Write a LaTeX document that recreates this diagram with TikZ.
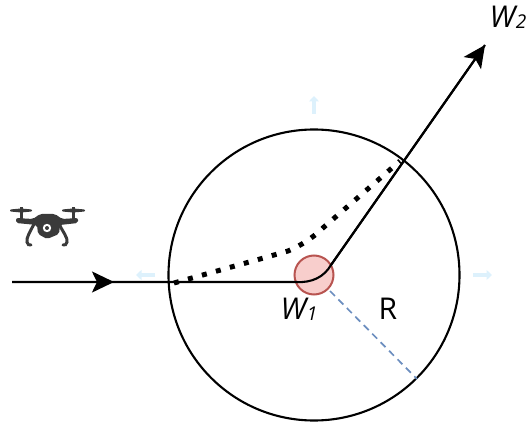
\documentclass[tikz,border=0pt]{standalone}
\usepackage{fontspec}
\setmainfont{Open Sans}
\usetikzlibrary{arrows.meta}
\definecolor{dronec}{HTML}{3A3A3A}
\definecolor{hint}{HTML}{DDF1FC}
\definecolor{dashc}{HTML}{6C8EBF}
\definecolor{wpfill}{HTML}{F8CECC}
\definecolor{wpline}{HTML}{B85450}
\tikzset{
  bigcircle/.style={draw=black,line width=2.1pt,fill=none},
  path/.style={draw=black,line width=2.1pt},
  tip/.style={-{Stealth[length=22pt,width=21pt,inset=5pt]}},
  hintarrow/.style={draw=hint,line width=3.6pt,-{Triangle[length=5.5pt,width=10pt]}},
  lbl/.style={text=black,inner sep=0pt,font=\fontsize{30}{30}\selectfont},
}
\newcommand{\wsub}[1]{\itshape W\kern0.5pt\raisebox{-1pt}{\fontsize{19}{19}\selectfont #1}}
\begin{document}
\begin{tikzpicture}[x=1pt,y=-1pt]
\useasboundingbox (0,0) rectangle (530,422);
% faint arrows
\coordinate (ua) at (314,114); \coordinate (ub) at (314,96);
\coordinate (ra) at (492,275); \coordinate (rb) at (473,275);
\coordinate (la) at (136,275); \coordinate (lb) at (155,275);
\draw[hintarrow] (ua) -- (ub);
\draw[hintarrow] (rb) -- (ra);
\draw[hintarrow] (lb) -- (la);
% waypoint circle
\coordinate (c) at (314,275);
\node[circle,draw=wpline,fill=wpfill,line width=2pt,minimum size=39pt,inner sep=0pt] (wp) at (c) {};
\node[bigcircle,circle,minimum size=291pt,inner sep=0pt] (big) at (c) {};
% dashed radius
\coordinate (rs) at (330,291); \coordinate (re) at (417,379);
\draw[draw=dashc,line width=1.7pt,dash pattern=on 7pt off 5pt] (rs) -- (re);
% main path
\coordinate (s) at (12,282); \coordinate (m) at (114,282);
\coordinate (w2) at (485,45); \coordinate (b) at (400,161);
\draw[path] (s) -- (296,282) .. controls (312,283) and (324,277) .. (331,265) -- (w2);
\draw[path,tip] (s) -- (m);
\draw[path,tip] (331,265) -- (w2);
% dotted
\draw[black,line width=5pt,dash pattern=on 5pt off 9.5pt] (174,283) -- (260,259) -- (288,251) .. controls (300,246) and (313,238) .. (324,227) -- (b);
% labels
\node[lbl] (w1) at (299,309) {\wsub{1}};
\node[lbl] (w2l) at (508,17) {\wsub{2}};
\node[lbl] (rl) at (388,309) {R};
% drone
\begin{scope}[dronec]
\fill[rounded corners=1pt] (10,209.5) -- (21,208.5) -- (32,209.5) -- (32,211.5) -- (21,212.5) -- (10,211.5) -- cycle;
\fill[rounded corners=1pt] (62,209.5) -- (73,208.5) -- (85,209.5) -- (85,211.5) -- (73,212.5) -- (62,211.5) -- cycle;
\fill (19.5,207.5) rectangle (22.5,221);
\fill (71.5,207.5) rectangle (74.5,221);
\fill[rounded corners=2pt] (16,218) -- (33,219) -- (40,214) -- (55,214) -- (62,219) -- (78,218) -- (78,223) -- (60,225) -- (59,234) -- (47,239) -- (38,234) -- (37,225) -- (16,223) -- cycle;
\draw[line width=3pt,line cap=round] (34,224) .. controls (30,232) and (26,238) .. (27,242) .. controls (27.5,245) and (29,245) .. (31,245);
\draw[line width=3pt,line cap=round] (59,224) .. controls (63,232) and (68,238) .. (67,242) .. controls (66.5,245) and (65,245) .. (63,245);
\fill[white] (47,228) circle (4.2);
\fill[dronec] (47,228) circle (2);
\end{scope}
\end{tikzpicture}
\end{document}
